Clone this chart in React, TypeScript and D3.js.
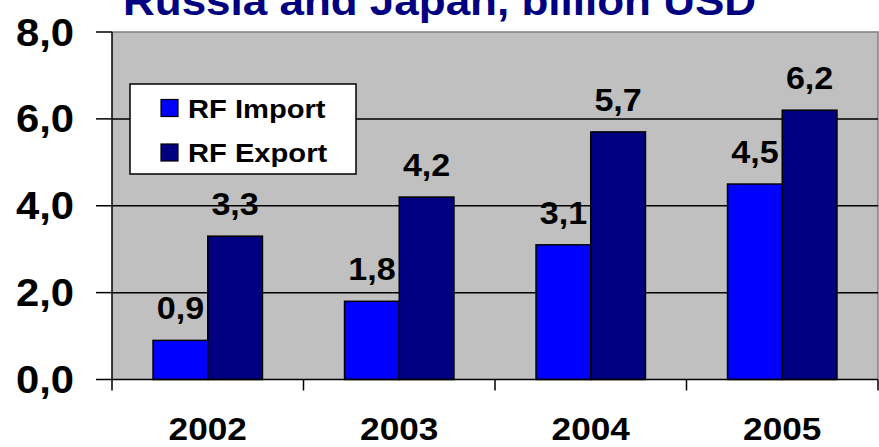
import React from "react";
import * as d3 from "d3";

const years = ["2002", "2003", "2004", "2005"];
const rfImport = [0.9, 1.8, 3.1, 4.5];
const rfExport = [3.3, 4.2, 5.7, 6.2];
const yTicks = [0, 2, 4, 6, 8];
const seriesNames = ["RF Import", "RF Export"];
const seriesColors = ["#0000FF", "#000080"];

const W = 879;
const H = 447;
const left = 112;
const right = 878;
const top = 32;
const bottom = 379.5;
const font = "'Liberation Sans', Arial, Helvetica, sans-serif";
const sx = 1.1;

const fmt = (v: number) => d3.format(".1f")(v).replace(".", ",");

const T = ({ x, y, size, anchor = "middle", fill = "#000", children }: any) => (
  <text
    transform={`translate(${x},${y}) scale(${sx},1)`}
    fontFamily={font}
    fontWeight="bold"
    fontSize={size}
    textAnchor={anchor}
    fill={fill}
  >
    {children}
  </text>
);

export default function App() {
  const x = d3.scaleBand<string>().domain(years).range([left, right]);
  const inner = d3
    .scaleBand<number>()
    .domain([0, 1])
    .range([0, x.bandwidth()])
    .paddingOuter(0.75)
    .paddingInner(0);
  const y = d3.scaleLinear().domain([0, 8]).range([bottom, top]);
  const series = [rfImport, rfExport];

  return (
    <svg width={W} height={H} style={{ position: "absolute", left: 0, top: 0 }}>
      <rect x={left} y={top} width={right - left} height={bottom - top} fill="#C0C0C0" />
      <path d={`M${left},${top}H${right}V${bottom}`} fill="none" stroke="#808080" strokeWidth={1.5} />
      {yTicks.slice(1, -1).map((t) => (
        <line key={t} x1={left} x2={right} y1={y(t)} y2={y(t)} stroke="#000" strokeWidth={1.5} />
      ))}
      {series.map((vals, si) =>
        vals.map((v, i) => (
          <rect
            key={`${si}-${i}`}
            x={x(years[i])! + inner(si)!}
            y={y(v)}
            width={inner.bandwidth()}
            height={bottom - y(v)}
            fill={seriesColors[si]}
            stroke="#000"
            strokeWidth={1.5}
          />
        ))
      )}
      {series.map((vals, si) =>
        vals.map((v, i) => (
          <T key={`l${si}-${i}`} x={x(years[i])! + inner(si)! + inner.bandwidth() / 2} y={y(v) - 21} size={31}>
            {fmt(v)}
          </T>
        ))
      )}
      <line x1={left} x2={left} y1={top} y2={bottom} stroke="#000" strokeWidth={1.5} />
      <line x1={left} x2={right} y1={bottom} y2={bottom} stroke="#000" strokeWidth={1.5} />
      {yTicks.map((t) => (
        <g key={t}>
          <line x1={left - 16} x2={left} y1={y(t)} y2={y(t)} stroke="#000" strokeWidth={1.5} />
          <T x={74} y={y(t) + 13.5} size={38} anchor="end">
            {fmt(t)}
          </T>
        </g>
      ))}
      {[...years.map((yr) => x(yr)!), right].map((bx, i) => (
        <line key={i} x1={bx} x2={bx} y1={bottom} y2={bottom + 11} stroke="#000" strokeWidth={1.5} />
      ))}
      {years.map((yr) => (
        <T key={yr} x={x(yr)! + x.bandwidth() / 2} y={440} size={32}>
          {yr}
        </T>
      ))}
      <T x={W / 2} y={15} size={40} fill="#000080">
        Russia and Japan, billion USD
      </T>
      <rect x={130} y={84} width={226} height={90} fill="#fff" stroke="#000" strokeWidth={1.5} />
      {seriesNames.map((n, i) => (
        <g key={n}>
          <rect x={161} y={99.5 + i * 44.5} width={17} height={17} fill={seriesColors[i]} stroke="#000" strokeWidth={1.2} />
          <T x={188} y={117.5 + i * 44.5} size={26.5} anchor="start">
            {n}
          </T>
        </g>
      ))}
    </svg>
  );
}
